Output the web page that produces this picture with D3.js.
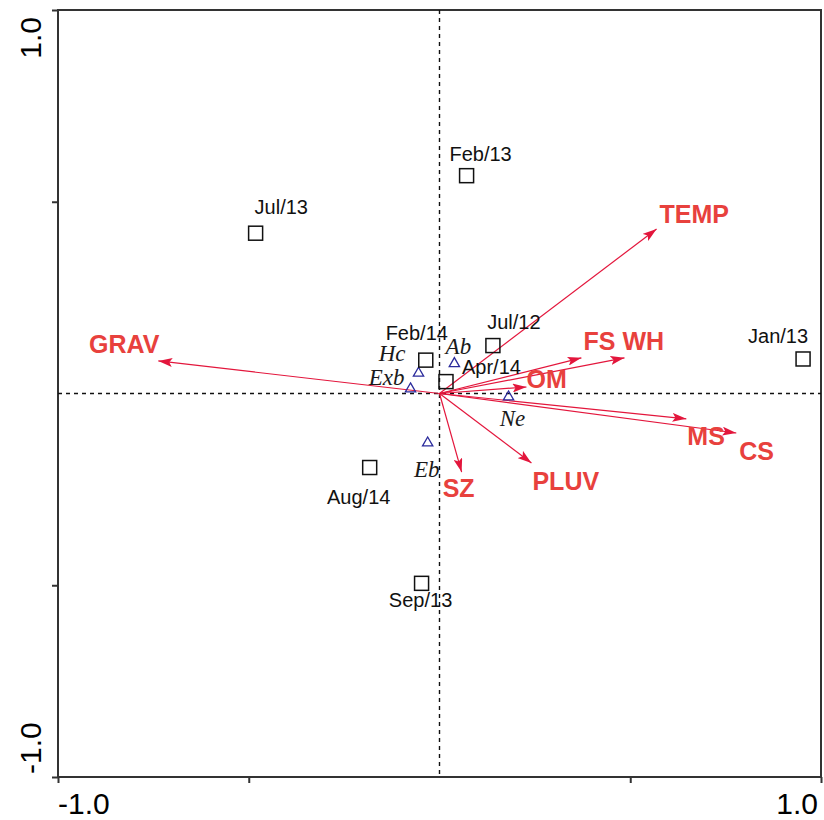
<!DOCTYPE html>
<html>
<head>
<meta charset="utf-8">
<script src="https://cdn.jsdelivr.net/npm/d3@7"></script>
<style>
  html, body { margin: 0; padding: 0; background: #fff; }
  svg { display: block; }
</style>
</head>
<body>
<svg id="chart" width="824" height="820"></svg>
<script>
// Sampling dates (site scores)
const sampleNames = ["Feb/13", "Jul/13", "Feb/14", "Jul/12", "Apr/14", "Jan/13", "Aug/14", "Sep/13"];
const sampleX = [0.071, -0.482, -0.036, 0.140, 0.017, 0.953, -0.183, -0.047];
const sampleY = [0.568, 0.418, 0.087, 0.125, 0.031, 0.090, -0.193, -0.495];

// Taxa (species scores)
const taxaNames = ["Ab", "Hc", "Exb", "Ne", "Eb"];
const taxaX = [0.039, -0.055, -0.076, 0.181, -0.031];
const taxaY = [0.078, 0.053, 0.012, -0.009, -0.129];

// Environmental variables (biplot arrows)
const envNames = ["TEMP", "GRAV", "FS", "WH", "OM", "MS", "CS", "SZ", "PLUV"];
const envX = [0.569, -0.737, 0.372, 0.485, 0.228, 0.647, 0.778, 0.058, 0.241];
const envY = [0.429, 0.085, 0.093, 0.093, 0.017, -0.066, -0.103, -0.205, -0.181];

// Axis tick values and labels
const tickValues = [-1, -0.5, 0, 0.5, 1];
const axisLabels = ["-1.0", "1.0"];

// ---- layout ----
const plotLeft = 58, plotRight = 821, plotTop = 10, plotBottom = 777;
const svg = d3.select("#chart");
const x = d3.scaleLinear().domain([-1, 1]).range([plotLeft, plotRight]);
const y = d3.scaleLinear().domain([-1, 1]).range([plotBottom, plotTop]);

// label placement around each mark: [dx, dy, anchor]
const sampleLabelPos = {
  "Feb/13": [14, -15, "middle"], "Jul/13": [-1, -19, "start"], "Feb/14": [-9, -20, "middle"],
  "Jul/12": [21, -17, "middle"], "Apr/14": [16, -8, "start"], "Jan/13": [-25, -16, "middle"],
  "Aug/14": [-11, 36, "middle"], "Sep/13": [-1, 24, "middle"]
};
const taxaLabelPos = {
  "Ab": [4, -10, "middle"], "Hc": [-13, -12, "end"], "Exb": [-6, -4, "end"],
  "Ne": [4, 29, "middle"], "Eb": [-1, 34, "middle"]
};
const envLabelPos = {
  "TEMP": [3, -6, "start"], "GRAV": [1, -8, "end"], "FS": [2, -8, "start"], "WH": [-2, -8, "start"],
  "OM": [0, 1, "start"], "MS": [1, 26, "start"], "CS": [3, 27, "start"], "SZ": [-19, 25, "start"],
  "PLUV": [1, 27, "start"]
};

// frame
svg.append("rect")
  .attr("x", x(-1)).attr("y", y(1))
  .attr("width", x(1) - x(-1)).attr("height", y(-1) - y(1))
  .attr("fill", "none").attr("stroke", "#333").attr("stroke-width", 2);

// ticks
const xAxis = d3.axisBottom(x).tickValues(tickValues.filter(v => v !== 0)).tickSize(6).tickFormat("");
const yAxis = d3.axisLeft(y).tickValues(tickValues.filter(v => v !== 0)).tickSize(6).tickFormat("");
svg.append("g").attr("transform", `translate(0,${plotBottom})`).call(xAxis)
  .call(g => g.select(".domain").remove())
  .call(g => g.selectAll("line").attr("stroke", "#333").attr("stroke-width", 2));
svg.append("g").attr("transform", `translate(${plotLeft},0)`).call(yAxis)
  .call(g => g.select(".domain").remove())
  .call(g => g.selectAll("line").attr("stroke", "#333").attr("stroke-width", 2));

// axis end labels
const axisFont = "'Liberation Sans', Arial, sans-serif";
svg.append("text").attr("x", x(-1)).attr("y", 814).attr("text-anchor", "start")
  .attr("font-family", axisFont).attr("font-size", 30).attr("fill", "#000").text(axisLabels[0]);
svg.append("text").attr("x", x(1) - 3).attr("y", 814).attr("text-anchor", "end")
  .attr("font-family", axisFont).attr("font-size", 30).attr("fill", "#000").text(axisLabels[1]);
svg.append("text").attr("transform", `translate(41,${y(-1) - 3}) rotate(-90)`).attr("text-anchor", "start")
  .attr("font-family", axisFont).attr("font-size", 30).attr("fill", "#000").text(axisLabels[0]);
svg.append("text").attr("transform", `translate(41,${y(1) + 7}) rotate(-90)`).attr("text-anchor", "end")
  .attr("font-family", axisFont).attr("font-size", 30).attr("fill", "#000").text(axisLabels[1]);

// zero lines
svg.append("line").attr("x1", x(-1)).attr("x2", x(1)).attr("y1", y(0)).attr("y2", y(0))
  .attr("stroke", "#111").attr("stroke-width", 1.4).attr("stroke-dasharray", "4,4");
svg.append("line").attr("x1", x(0)).attr("x2", x(0)).attr("y1", y(1)).attr("y2", y(-1))
  .attr("stroke", "#111").attr("stroke-width", 1.4).attr("stroke-dasharray", "4,4");

// environmental arrows
const arrowColor = "#e3163c";
const labelRed = "#e8413d";
svg.append("defs").append("marker")
  .attr("id", "head").attr("viewBox", "0 0 14 9").attr("refX", 14).attr("refY", 4.5)
  .attr("markerWidth", 14).attr("markerHeight", 9).attr("markerUnits", "userSpaceOnUse")
  .attr("orient", "auto")
  .append("path").attr("d", "M0,0 L14,4.5 L0,9 L3,4.5 Z").attr("fill", arrowColor);

const env = envNames.map((n, i) => ({ name: n, x: envX[i], y: envY[i] }));
svg.append("g").selectAll("line").data(env).join("line")
  .attr("x1", x(0)).attr("y1", y(0))
  .attr("x2", d => x(d.x)).attr("y2", d => y(d.y))
  .attr("stroke", arrowColor).attr("stroke-width", 1.2)
  .attr("marker-end", "url(#head)");

// taxa
const taxa = taxaNames.map((n, i) => ({ name: n, x: taxaX[i], y: taxaY[i] }));
const tri = d3.symbol().type(d3.symbolTriangle).size(46);
svg.append("g").selectAll("path").data(taxa).join("path")
  .attr("transform", d => `translate(${x(d.x)},${y(d.y)})`)
  .attr("d", tri).attr("fill", "none").attr("stroke", "#2b2b9c").attr("stroke-width", 1.3);
svg.append("g").selectAll("text").data(taxa).join("text")
  .attr("x", d => x(d.x) + taxaLabelPos[d.name][0])
  .attr("y", d => y(d.y) + taxaLabelPos[d.name][1])
  .attr("text-anchor", d => taxaLabelPos[d.name][2])
  .attr("font-family", "'Liberation Serif', 'Times New Roman', serif")
  .attr("font-style", "italic").attr("font-size", 23).attr("fill", "#1a1a1a")
  .text(d => d.name);

// sampling dates
const samples = sampleNames.map((n, i) => ({ name: n, x: sampleX[i], y: sampleY[i] }));
const sq = 14;
svg.append("g").selectAll("rect").data(samples).join("rect")
  .attr("x", d => x(d.x) - sq / 2).attr("y", d => y(d.y) - sq / 2)
  .attr("width", sq).attr("height", sq)
  .attr("fill", "none").attr("stroke", "#111").attr("stroke-width", 1.5);
svg.append("g").selectAll("text").data(samples).join("text")
  .attr("x", d => x(d.x) + sampleLabelPos[d.name][0])
  .attr("y", d => y(d.y) + sampleLabelPos[d.name][1])
  .attr("text-anchor", d => sampleLabelPos[d.name][2])
  .attr("font-family", axisFont).attr("font-size", 20).attr("fill", "#111")
  .text(d => d.name);

// environmental labels
svg.append("g").selectAll("text").data(env).join("text")
  .attr("x", d => x(d.x) + envLabelPos[d.name][0])
  .attr("y", d => y(d.y) + envLabelPos[d.name][1])
  .attr("text-anchor", d => envLabelPos[d.name][2])
  .attr("font-family", axisFont).attr("font-weight", "bold").attr("font-size", 25)
  .attr("fill", labelRed)
  .text(d => d.name);
</script>
</body>
</html>
